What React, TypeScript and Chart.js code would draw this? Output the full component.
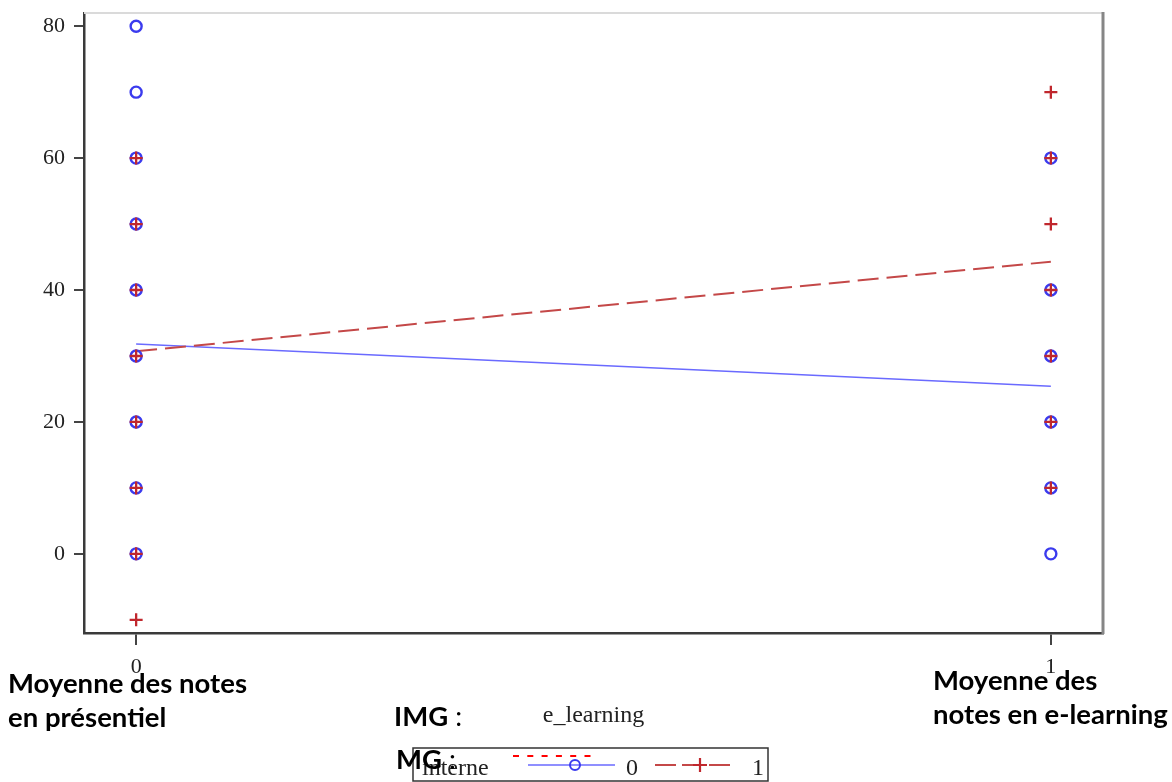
import React, { useEffect, useRef } from 'react';
import { Chart, registerables } from 'chart.js';

Chart.register(...registerables);

// ---- data ----
const xCategories = [0, 1];
const xTickLabels = ['0', '1'];
const yTickValues = [0, 20, 40, 60, 80];
const interne0AtX0 = [80, 70, 60, 50, 40, 30, 20, 10, 0];
const interne0AtX1 = [60, 40, 30, 20, 10, 0];
const interne1AtX0 = [60, 50, 40, 30, 20, 10, 0, -10];
const interne1AtX1 = [70, 60, 50, 40, 30, 20, 10];
const fitInterne0 = [31.8, 25.4];
const fitInterne1 = [30.7, 44.3];
const xTitle = 'e_learning';
const legendTitle = 'interne';
const legendLabels = ['0', '1'];

const BLUE = '#3b3bee';
const BLUE_LINE = '#6a6aff';
const RED = '#c0272d';
const RED_LINE = '#c44848';
const SERIF = '"Liberation Serif", "Times New Roman", serif';

const toPts = (xv: number, ys: number[]) => ys.map((y) => ({ x: xv, y }));

const decorPlugin = {
  id: 'decor',
  afterDraw(chart: any) {
    const { ctx, chartArea } = chart;
    const { left, right, top, bottom } = chartArea;
    ctx.save();
    // top frame line (light)
    ctx.strokeStyle = '#dadada';
    ctx.lineWidth = 2;
    ctx.beginPath();
    ctx.moveTo(left, top);
    ctx.lineTo(right, top);
    ctx.stroke();
    // right frame line
    ctx.strokeStyle = '#868686';
    ctx.lineWidth = 3;
    ctx.beginPath();
    ctx.moveTo(right, top - 1);
    ctx.lineTo(right, bottom + 1);
    ctx.stroke();

    // legend box
    const lx = 413, ly = 748, lw = 355, lh = 33;
    ctx.strokeStyle = '#333';
    ctx.lineWidth = 1.5;
    ctx.strokeRect(lx, ly, lw, lh);
    ctx.fillStyle = '#222';
    ctx.font = `24px ${SERIF}`;
    ctx.textBaseline = 'alphabetic';
    ctx.textAlign = 'left';
    ctx.fillText(legendTitle, 422, 775);
    const my = 765;
    // item 0
    ctx.strokeStyle = BLUE_LINE;
    ctx.lineWidth = 1.5;
    ctx.beginPath();
    ctx.moveTo(528, my);
    ctx.lineTo(615, my);
    ctx.stroke();
    ctx.strokeStyle = BLUE;
    ctx.lineWidth = 2;
    ctx.beginPath();
    ctx.arc(575, my, 5, 0, Math.PI * 2);
    ctx.stroke();
    ctx.textAlign = 'center';
    ctx.fillStyle = '#222';
    ctx.fillText(legendLabels[0], 632, 775);
    // item 1
    ctx.strokeStyle = RED_LINE;
    ctx.lineWidth = 2;
    ctx.setLineDash([21, 6]);
    ctx.beginPath();
    ctx.moveTo(655, my);
    ctx.lineTo(736, my);
    ctx.stroke();
    ctx.setLineDash([]);
    ctx.strokeStyle = RED;
    ctx.lineWidth = 2.2;
    ctx.beginPath();
    ctx.moveTo(700 - 7, my);
    ctx.lineTo(700 + 7, my);
    ctx.moveTo(700, my - 7);
    ctx.lineTo(700, my + 7);
    ctx.stroke();
    ctx.fillStyle = '#222';
    ctx.fillText(legendLabels[1], 758, 775);

    // red dashed annotation mark above legend
    ctx.strokeStyle = '#ff0000';
    ctx.lineWidth = 2;
    ctx.setLineDash([6, 8.3]);
    ctx.beginPath();
    ctx.moveTo(513, 756);
    ctx.lineTo(598, 756);
    ctx.stroke();
    ctx.restore();
  },
};

export default function App() {
  const ref = useRef<HTMLCanvasElement | null>(null);

  useEffect(() => {
    if (!ref.current) return;
    const chart = new Chart(ref.current, {
      type: 'scatter',
      data: {
        datasets: [
          {
            label: '1',
            data: [...toPts(xCategories[0], interne1AtX0), ...toPts(xCategories[1], interne1AtX1)],
            pointStyle: 'cross',
            pointRadius: 6.5,
            pointBorderWidth: 2.3,
            borderColor: RED,
            backgroundColor: RED,
            showLine: false,
          },
          {
            label: '0',
            data: [...toPts(xCategories[0], interne0AtX0), ...toPts(xCategories[1], interne0AtX1)],
            pointStyle: 'circle',
            pointRadius: 5.5,
            pointBorderWidth: 2.4,
            borderColor: BLUE,
            backgroundColor: 'rgba(0,0,0,0)',
            showLine: false,
          },
          {
            label: 'fit 1',
            data: xCategories.map((x, i) => ({ x, y: fitInterne1[i] })),
            showLine: true,
            borderColor: RED_LINE,
            borderWidth: 2,
            borderDash: [21, 8],
            pointRadius: 0,
          },
          {
            label: 'fit 0',
            data: xCategories.map((x, i) => ({ x, y: fitInterne0[i] })),
            showLine: true,
            borderColor: BLUE_LINE,
            borderWidth: 1.5,
            pointRadius: 0,
          },
        ],
      },
      options: {
        responsive: false,
        animation: false,
        layout: { padding: { top: 13, right: 69, left: 0, bottom: 0 } },
        plugins: { legend: { display: false }, tooltip: { enabled: false } },
        scales: {
          x: {
            type: 'linear',
            min: -0.057,
            max: 1.057,
            afterBuildTicks: (s: any) => {
              s.ticks = xCategories.map((v) => ({ value: v }));
            },
            afterFit: (s: any) => {
              s.height = 149;
              s.paddingLeft = 0;
              s.paddingRight = 0;
            },
            grid: { display: true, drawOnChartArea: false, drawTicks: true, tickLength: 12, color: '#444', lineWidth: 2 },
            border: { display: true, color: '#3a3a3a', width: 2.5 },
            ticks: {
              autoSkip: false,
              maxRotation: 0,
              padding: 9,
              color: '#222',
              font: { family: SERIF, size: 22 },
              callback: (v: any) => {
                const i = xCategories.indexOf(Number(v));
                return i >= 0 ? xTickLabels[i] : '';
              },
            },
            title: {
              display: true,
              text: xTitle,
              color: '#222',
              font: { family: SERIF, size: 24 },
              padding: { top: 0, bottom: 52 },
            },
          },
          y: {
            type: 'linear',
            min: -12,
            max: 82,
            afterBuildTicks: (s: any) => {
              s.ticks = yTickValues.map((v) => ({ value: v }));
            },
            afterFit: (s: any) => {
              s.width = 84;
              s.paddingTop = 0;
              s.paddingBottom = 0;
            },
            grid: { display: true, drawOnChartArea: false, drawTicks: true, tickLength: 10, color: '#444', lineWidth: 2 },
            border: { display: true, color: '#3a3a3a', width: 2.5 },
            ticks: {
              padding: 9,
              color: '#222',
              font: { family: SERIF, size: 22 },
              callback: (v: any) => String(v),
            },
          },
        },
      },
      plugins: [decorPlugin],
    });
    return () => chart.destroy();
  }, []);

  const ann: React.CSSProperties = {
    position: 'absolute',
    fontFamily: 'Lato, "Open Sans", sans-serif',
    fontWeight: 700,
    fontSize: '27.5px',
    lineHeight: '34px',
    color: '#000',
    whiteSpace: 'pre',
  };

  return (
    <div style={{ position: 'absolute', left: 0, top: 0, width: 1172, height: 782, background: '#fff', overflow: 'hidden' }}>
      <canvas ref={ref} width={1172} height={782} style={{ position: 'absolute', left: 0, top: 0 }} />
      <div style={{ ...ann, left: 8, top: 666 }}>{'Moyenne des notes\nen présentiel'}</div>
      <div style={{ ...ann, left: 933, top: 663 }}>{'Moyenne des\nnotes en e-learning'}</div>
      <div style={{ ...ann, left: 394, top: 699 }}>
        IMG<span style={{ fontWeight: 400 }}> :</span>
      </div>
      <div style={{ ...ann, left: 396, top: 742 }}>
        MG<span style={{ fontWeight: 400 }}> :</span>
      </div>
    </div>
  );
}
